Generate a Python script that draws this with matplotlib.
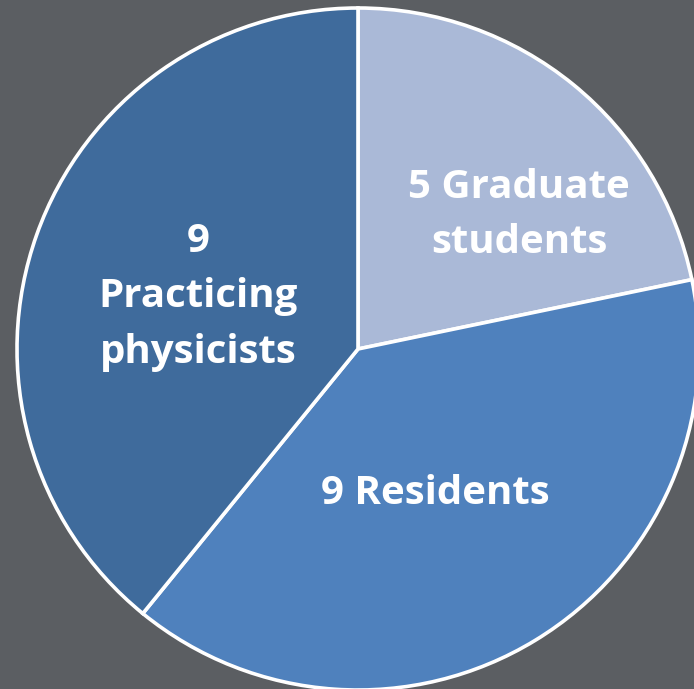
import matplotlib.pyplot as plt

groups = ['Graduate\nstudents', 'Residents', 'Practicing\nphysicists']
counts = [5, 9, 9]
labels = ['5 Graduate\nstudents', '9 Residents', '9\nPracticing\nphysicists']
colors = ['#aab9d7', '#4f81bd', '#3f6b9c']

# label anchor points (pixel units, origin bottom-left)
label_pos = [(519, 474), (435, 196), (198, 392)]

bg = '#5b5e62'
fig = plt.figure(figsize=(6.94, 6.89), dpi=100, facecolor=bg)
ax = fig.add_axes([0, 0, 1, 1])
ax.set_facecolor(bg)

ax.pie(counts, colors=colors, startangle=90, counterclock=False,
       radius=341, center=(358, 340),
       wedgeprops=dict(edgecolor='white', linewidth=2.6))

for lab, (x, y) in zip(labels, label_pos):
    ax.text(x, y, lab, ha='center', va='center', multialignment='center',
            color='white', fontsize=29, fontweight='bold', family='Open Sans',
            linespacing=1.55)

ax.set_xlim(0, 694)
ax.set_ylim(0, 689)
ax.set_aspect('equal')
ax.axis('off')

fig.savefig('out.png', dpi=100, facecolor=bg)
